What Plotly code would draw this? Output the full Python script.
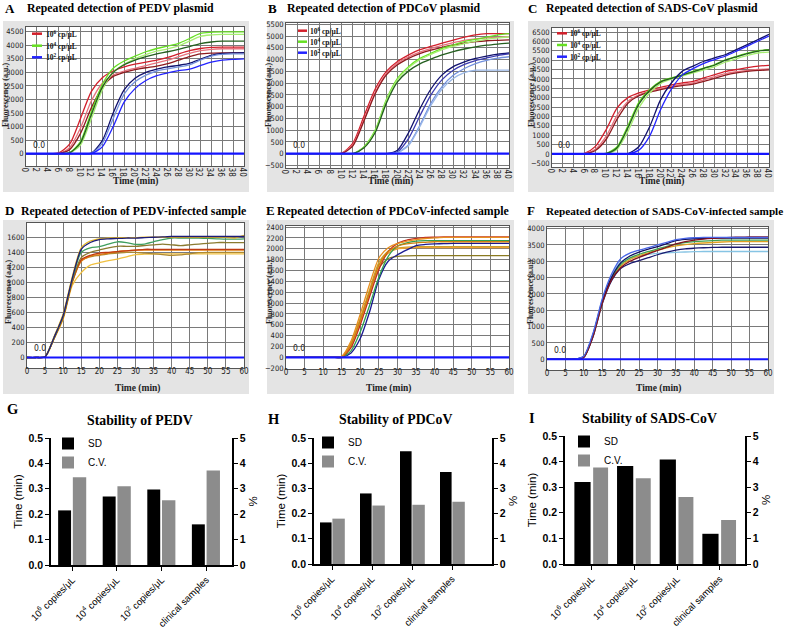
import plotly.graph_objects as go

W, H = 789, 629
def fx(p): return p / W
def fy(p): return 1 - p / H

# ---------------- DATA ----------------
T40 = [0, 2, 4, 6, 8, 10, 12, 14, 16, 18, 20, 22, 24, 26, 28, 30, 32, 34, 36, 38, 40]
T60 = [0, 2.5, 5, 7.5, 10, 12.5, 15, 17.5, 20, 22.5, 25, 27.5, 30, 32.5, 35, 37.5, 40,
       42.5, 45, 47.5, 50, 52.5, 55, 57.5, 60]

# Panel A: PEDV plasmid
A_red1 = [0,0,0,30,350,1300,2300,2800,3050,3200,3300,3380,3450,3550,3680,3800,3880,3920,3930,3930,3930]
A_red2 = [0,0,0,10,220,950,1950,2600,2900,3050,3150,3250,3350,3450,3580,3700,3800,3850,3870,3870,3870]
A_red3 = [0,0,0,5,150,750,1700,2450,2850,3000,3100,3170,3230,3320,3450,3580,3680,3710,3720,3720,3720]
A_green1 = [0,0,0,0,40,450,1550,2550,3150,3420,3600,3760,3880,3970,4070,4250,4440,4480,4490,4490,4490]
A_green2 = [0,0,0,0,20,320,1300,2350,3000,3300,3500,3650,3780,3870,3980,4150,4330,4380,4400,4400,4400]
A_green3 = [0,0,0,0,30,400,1450,2450,3000,3280,3450,3580,3680,3760,3850,3950,4060,4120,4150,4150,4150]
A_blue1 = [0,0,0,0,0,0,20,480,1500,2350,2780,3000,3120,3200,3260,3330,3480,3630,3700,3720,3730]
A_blue2 = [0,0,0,0,0,0,10,380,1300,2200,2650,2900,3050,3130,3200,3280,3450,3600,3660,3680,3680]
A_blue3 = [0,0,0,0,0,0,5,250,1000,1900,2400,2700,2880,2980,3060,3120,3250,3380,3450,3480,3500]

# Panel B: PDCoV plasmid
B_red1 = [0,0,0,0,0,20,450,1600,2750,3500,3920,4200,4420,4560,4700,4830,4950,5050,5100,5100,5100]
B_red2 = [0,0,0,0,0,10,380,1450,2600,3400,3850,4120,4320,4470,4600,4720,4820,4880,4920,4950,4970]
B_red3 = [0,0,0,0,0,5,330,1400,2550,3350,3780,4050,4250,4400,4520,4620,4700,4760,4800,4820,4840]
B_green1 = [0,0,0,0,0,0,0,300,1000,2300,3200,3700,4050,4270,4480,4620,4760,4860,4950,5050,5100]
B_green2 = [0,0,0,0,0,0,0,270,950,2250,3150,3650,4000,4220,4420,4560,4680,4780,4860,4920,4960]
B_green3 = [0,0,0,0,0,0,0,250,900,2150,3050,3520,3820,4020,4200,4340,4450,4540,4610,4660,4700]
B_blue1 = [0,0,0,0,0,0,0,0,0,0,150,900,1900,2750,3350,3700,3900,4050,4150,4230,4280]
B_blue2 = [0,0,0,0,0,0,0,0,0,0,80,650,1600,2500,3150,3550,3800,3960,4070,4170,4240]
B_blue3 = [0,0,0,0,0,0,0,0,0,0,40,380,1200,2150,2850,3330,3620,3830,3970,4060,4120]
B_blue4 = [0,0,0,0,0,0,0,0,0,0,30,350,1150,2050,2750,3200,3450,3550,3550,3550,3550]

# Panel C: SADS-CoV plasmid
C_red1 = [0,0,0,30,400,1300,2450,3000,3250,3420,3550,3680,3780,3870,4050,4230,4400,4500,4600,4680,4720]
C_red2 = [0,0,0,10,250,950,2050,2800,3150,3350,3480,3600,3700,3790,3950,4120,4280,4380,4450,4500,4530]
C_red3 = [0,0,0,5,180,780,1850,2700,3100,3300,3430,3550,3640,3720,3870,4030,4200,4320,4400,4450,4480]
C_green1 = [0,0,0,0,0,30,380,1500,2750,3420,3870,4050,4220,4400,4580,4760,5020,5200,5370,5500,5560]
C_green2 = [0,0,0,0,0,10,250,1200,2450,3250,3750,3980,4150,4320,4480,4650,4900,5080,5250,5380,5430]
C_green3 = [0,0,0,0,0,20,330,1400,2650,3380,3830,4030,4200,4380,4560,4740,5000,5180,5350,5480,5540]
C_blue1 = [0,0,0,0,0,0,0,20,380,1450,2880,3780,4400,4680,4940,5120,5300,5560,5830,6100,6380]
C_blue2 = [0,0,0,0,0,0,0,5,200,950,2350,3450,4200,4550,4830,5030,5220,5480,5750,6020,6280]

NTC40 = [0]*21
NTC60 = [0]*25

# Panel D: PEDV-infected sample
D_navy = [0,0,10,270,560,1050,1440,1530,1570,1580,1585,1590,1590,1595,1600,1605,1610,1610,1610,1610,1610,1610,1610,1610,1610]
D_gold = [0,0,10,280,580,1070,1460,1550,1580,1590,1595,1595,1595,1600,1600,1600,1600,1600,1600,1600,1600,1600,1600,1590,1625]
D_green = [0,0,10,270,560,1040,1400,1460,1475,1510,1540,1530,1505,1510,1540,1570,1590,1590,1590,1590,1585,1580,1575,1575,1580]
D_olive = [0,0,10,260,540,1020,1330,1400,1430,1460,1480,1480,1480,1490,1500,1510,1500,1490,1500,1510,1520,1530,1530,1530,1530]
D_red = [0,0,10,260,540,1010,1300,1360,1390,1400,1410,1420,1430,1440,1440,1440,1440,1440,1440,1440,1440,1440,1440,1440,1440]
D_orange = [0,0,10,255,530,1000,1280,1350,1370,1390,1410,1420,1430,1430,1430,1430,1430,1430,1430,1430,1430,1430,1430,1430,1430]
D_brown = [0,0,10,255,530,1000,1290,1340,1360,1380,1390,1400,1400,1390,1380,1370,1360,1365,1380,1395,1400,1400,1400,1400,1400]
D_yellow = [0,0,10,250,510,960,1130,1230,1260,1290,1310,1340,1370,1375,1380,1380,1380,1380,1380,1380,1380,1380,1380,1380,1380]

# Panel E: PDCoV-infected sample
E_orange1 = [0,0,0,0,0,0,20,300,800,1350,1830,2020,2100,2140,2170,2190,2200,2210,2210,2210,2210,2210,2210,2210,2210]
E_orange2 = [0,0,0,0,0,0,10,230,680,1200,1700,1950,2050,2090,2110,2120,2130,2130,2130,2130,2130,2130,2130,2130,2130]
E_red = [0,0,0,0,0,0,5,180,600,1120,1620,1950,2100,2160,2190,2210,2215,2220,2220,2220,2220,2220,2220,2220,2220]
E_green = [0,0,0,0,0,0,0,120,470,960,1480,1860,2050,2110,2140,2150,2150,2150,2150,2150,2150,2150,2150,2150,2150]
E_blue = [0,0,0,0,0,0,0,80,350,840,1440,1770,1890,1980,2060,2080,2090,2095,2100,2100,2100,2100,2100,2100,2100]
E_olive = [0,0,0,0,0,0,10,250,700,1200,1650,1820,1860,1870,1875,1875,1875,1875,1875,1875,1875,1875,1875,1875,1875]
E_gold = [0,0,0,0,0,0,10,260,720,1250,1750,1960,2010,2030,2040,2040,2040,2040,2040,2040,2040,2040,2040,2040,2040]
E_orange3 = [0,0,0,0,0,0,5,200,640,1150,1680,1920,2000,2015,2020,2020,2020,2020,2020,2020,2020,2020,2020,2020,2020]

# Panel F: SADS-CoV-infected sample
F_blue = [0,0,0,0,100,800,1850,2600,3080,3250,3340,3420,3500,3580,3660,3700,3720,3730,3730,3730,3730,3730,3730,3730,3730]
F_darkred = [0,0,0,0,60,700,1720,2430,2800,3000,3120,3230,3330,3430,3530,3600,3650,3680,3700,3715,3730,3740,3745,3750,3750]
F_navy = [0,0,0,0,80,750,1780,2500,2950,3160,3280,3370,3450,3540,3630,3670,3690,3700,3705,3710,3710,3710,3710,3710,3710]
F_green = [0,0,0,0,70,730,1760,2480,2900,3100,3210,3300,3380,3460,3520,3570,3600,3620,3635,3645,3650,3650,3650,3650,3650]
F_orange = [0,0,0,0,70,720,1750,2460,2850,3050,3170,3260,3340,3410,3470,3510,3540,3560,3575,3590,3600,3600,3600,3600,3600]
F_navylow = [0,0,0,0,60,690,1700,2400,2780,2930,3020,3110,3200,3280,3340,3380,3400,3415,3425,3430,3430,3430,3430,3430,3430]
F_lightblue = [0,0,0,0,90,780,1820,2550,2980,3100,3160,3210,3240,3260,3275,3285,3295,3300,3300,3300,3300,3300,3300,3300,3300]

# Panels G-I: stability bars
BAR_CATS = ["10<sup>6</sup> copies/μL", "10<sup>4</sup> copies/μL",
            "10<sup>2</sup> copies/μL", "clinical samples"]
G_SD = [0.215, 0.270, 0.297, 0.160]
G_CV = [3.45, 3.10, 2.55, 3.72]
H_SD = [0.165, 0.280, 0.447, 0.365]
H_CV = [1.80, 2.32, 2.35, 2.47]
I_SD = [0.320, 0.383, 0.408, 0.118]
I_CV = [3.77, 3.35, 2.62, 1.72]

LEG_LABELS = ["10<sup>6</sup> cp/μL", "10<sup>4</sup> cp/μL", "10<sup>2</sup> cp/μL"]

# ---------------- STYLE ----------------
SERIF = "Liberation Serif, Times New Roman, serif"
NARROW = "Liberation Sans Narrow, DejaVu Sans Condensed, Arial Narrow, sans-serif"
SANS = "Liberation Sans, Arial, sans-serif"
RED = ["#d21f2b", "#e8707c", "#8e1a1f"]
GRN = ["#66e022", "#a6ef70", "#245f1f"]
BLU = ["#2323ff", "#7391de", "#11116e"]

panels = [
    dict(k=1, x=(26, 244), y=(27, 166), xr=[0, 40], xd=2, yr=[-454, 4673], yd=500, T=T40, ntc=NTC40,
         xt=(135, 182), yt=(6, 95),
         curves=[(A_red1, RED[0]), (A_red2, RED[1]), (A_red3, RED[2]),
                 (A_green1, GRN[0]), (A_green2, GRN[1]), (A_green3, GRN[2]),
                 (A_blue1, BLU[2]), (A_blue2, BLU[1]), (A_blue3, BLU[0])]),
    dict(k=2, x=(286, 509), y=(23, 168), xr=[0, 40], xd=2, yr=[-608, 5555], yd=500, T=T40, ntc=NTC40,
         xt=(390, 182), yt=(269, 95),
         curves=[(B_red1, RED[0]), (B_red2, RED[1]), (B_red3, RED[2]),
                 (B_green1, GRN[0]), (B_green2, GRN[1]), (B_green3, GRN[2]),
                 (B_blue1, BLU[2]), (B_blue2, "#3a3ab0"), (B_blue3, BLU[1]), (B_blue4, "#9ab8e8")]),
    dict(k=3, x=(552, 769), y=(28, 167), xr=[0, 40], xd=2, yr=[-700, 6714], yd=500, T=T40, ntc=NTC40,
         xt=(661, 182), yt=(532, 95),
         curves=[(C_red1, RED[0]), (C_red2, RED[1]), (C_red3, RED[2]),
                 (C_green1, GRN[0]), (C_green2, GRN[1]), (C_green3, GRN[2]),
                 (C_blue1, BLU[2]), (C_blue2, BLU[0])]),
    dict(k=4, x=(27, 244), y=(223, 368), xr=[0, 60], xd=5, yr=[-140, 1790], yd=200, T=T60, ntc=NTC60,
         xt=(137, 388), yt=(8, 292),
         curves=[(D_yellow, "#f0c040"), (D_brown, "#b08a30"), (D_orange, "#e07a10"), (D_red, "#c03a10"),
                 (D_olive, "#8a7a30"), (D_green, "#3f9f5f"), (D_gold, "#e8b820"), (D_navy, "#1c1c78")]),
    dict(k=5, x=(286, 509), y=(226, 369), xr=[0, 60], xd=5, yr=[-215, 2420], yd=200, T=T60, ntc=NTC60,
         xt=(388, 388), yt=(269, 292),
         curves=[(E_olive, "#8a7a20"), (E_gold, "#c8a030"), (E_orange3, "#f0a030"), (E_blue, "#1a1a90"),
                 (E_green, "#30a050"), (E_red, "#c03020"), (E_orange2, "#d08010"), (E_orange1, "#e89020")]),
    dict(k=6, x=(547, 768), y=(227, 370), xr=[0, 60], xd=5, yr=[-330, 4050], yd=500, T=T60, ntc=NTC60,
         xt=(658, 388), yt=(530, 292),
         curves=[(F_lightblue, "#86c4e4"), (F_navylow, "#1a1a70"), (F_orange, "#e0a020"), (F_green, "#40a050"),
                 (F_navy, "#101060"), (F_darkred, "#801020"), (F_blue, "#4a66e6")]),
]

fig = go.Figure()
layout = dict(template="none", width=W, height=H, margin=dict(l=0, r=0, t=0, b=0, pad=0), autosize=False,
              paper_bgcolor="white", plot_bgcolor="white", showlegend=True)
shapes, annots = [], []

boxes = [(3, 249, 21, 192), (267, 514, 21, 192), (528, 774, 21, 192),
         (3, 249, 220, 394), (267, 514, 220, 394), (528, 774, 220, 394)]
for (x0, x1, y0, y1) in boxes:
    shapes.append(dict(type="rect", xref="paper", yref="paper", x0=fx(x0), x1=fx(x1),
                       y0=fy(y1), y1=fy(y0), fillcolor="#e4e4e4", line=dict(width=0), layer="below"))

for p in panels:
    k = p["k"]
    xn, yn = ("x%d" % k if k > 1 else "x"), ("y%d" % k if k > 1 else "y")
    xk, yk = ("xaxis%d" % k if k > 1 else "xaxis"), ("yaxis%d" % k if k > 1 else "yaxis")
    shapes.append(dict(type="rect", xref=xn + " domain", yref=yn + " domain", x0=0, x1=1, y0=0, y1=1,
                       fillcolor="white", line=dict(width=0), layer="below"))
    for vals, col in p["curves"]:
        fig.add_trace(go.Scatter(x=p["T"], y=vals, mode="lines", xaxis=xn, yaxis=yn,
                                 line=dict(color=col, width=1.3, shape="spline", smoothing=0.7),
                                 showlegend=False, hoverinfo="skip"))
    fig.add_trace(go.Scatter(x=p["T"], y=p["ntc"], mode="lines", xaxis=xn, yaxis=yn,
                             line=dict(color="#1414ff", width=2.2), showlegend=False, hoverinfo="skip"))
    layout[xk] = dict(domain=[fx(p["x"][0]), fx(p["x"][1])], range=p["xr"], dtick=p["xd"], tick0=0,
                      anchor=yn, automargin=False, showgrid=True, gridcolor="#7a7a7a", gridwidth=1,
                      zeroline=False, showline=True, linecolor="#555", linewidth=1, mirror=True, ticks="",
                      ticklabelstandoff=-5,
                      tickfont=dict(family=NARROW, size=8, color="#222"))
    layout[yk] = dict(domain=[fy(p["y"][1]), fy(p["y"][0])], range=p["yr"], dtick=p["yd"], tick0=0,
                      anchor=xn, automargin=False, showgrid=True, gridcolor="#7a7a7a", gridwidth=1,
                      zeroline=False, showline=True, linecolor="#555", linewidth=1, mirror=True, ticks="",
                      tickfont=dict(family=NARROW, size=7.5, color="#222"))
    annots.append(dict(xref="paper", yref="paper", x=fx(p["xt"][0]), y=fy(p["xt"][1]), xanchor="center",
                       yanchor="middle", text="Time (min)", showarrow=False,
                       font=dict(family=SERIF, size=9.5, color="#222", weight="bold")))
    annots.append(dict(xref="paper", yref="paper", x=fx(p["yt"][0]), y=fy(p["yt"][1]), xanchor="center",
                       yanchor="middle", text="Fluorescence (a.u.)", textangle=-90, showarrow=False,
                       font=dict(family=SERIF, size=8, color="#222", weight="bold")))
    annots.append(dict(xref=xn, yref=yn, x=(2.3 if k <= 3 else 3.5), y=0, yanchor="bottom", yshift=2,
                       xanchor="center", text="0.0", showarrow=False,
                       font=dict(family=NARROW, size=8.5, color="#222")))

# manual legends for A-C
legpos = [((32, 42), (33.7, 45.7, 57.3), 44), ((298, 307), (30.7, 41.7, 52.7), 308),
          ((557, 567), (33.3, 45, 56.7), 568)]
for (lx, ys, tx) in legpos:
    for col, yy, lab in zip([RED[0], GRN[0], BLU[0]], ys, LEG_LABELS):
        shapes.append(dict(type="line", xref="paper", yref="paper", x0=fx(lx[0]), x1=fx(lx[1]),
                           y0=fy(yy), y1=fy(yy), line=dict(color=col, width=2.5)))
        annots.append(dict(xref="paper", yref="paper", x=fx(tx), y=fy(yy), xanchor="left", yanchor="middle",
                           text=lab, showarrow=False, font=dict(family=SERIF, size=7.5, color="#111", weight="bold")))

# panel titles
titles = [("A", 3, 8, 13, "Repeated detection of PEDV plasmid", 120, 8, 11.8),
          ("B", 266, 8, 13, "Repeated detection of PDCoV plasmid", 384, 8, 11.8),
          ("C", 526, 8, 13, "Repeated detection of SADS-CoV plasmid", 652, 8, 11.8),
          ("D", 3, 211, 13, "Repeated detection of PEDV-infected sample", 133, 211, 11.8),
          ("E", 264, 211, 13, "Repeated detection of PDCoV-infected sample", 393, 211, 11.8),
          ("F", 525, 211, 13, "Repeated detection of SADS-CoV-infected sample", 664, 211, 11.2),
          ("G", 5, 409, 14.5, "Stability of PEDV", 140, 420, 13.8),
          ("H", 266, 419, 14.5, "Stability of PDCoV", 395, 419, 13.8),
          ("I", 527, 418, 14.5, "Stability of SADS-CoV", 649, 418, 13.8)]
for L, lx, ly, ls, t, tx, ty, ts in titles:
    annots.append(dict(xref="paper", yref="paper", x=fx(lx), y=fy(ly), xanchor="left", yanchor="middle",
                       text=L, showarrow=False, font=dict(family=SERIF, size=ls, color="black", weight="bold")))
    annots.append(dict(xref="paper", yref="paper", x=fx(tx), y=fy(ty), xanchor="center", yanchor="middle",
                       text=t, showarrow=False, font=dict(family=SERIF, size=ts, color="black", weight="bold")))

# bar panels
bars = [dict(k=7, k2=10, x=(51, 232), y=(438, 565), xr=[-0.48, 3.58], sd=G_SD, cv=G_CV,
             sdo=-0.32, sdw=0.29, cvo=0.01, cvw=0.30, leg=(48, 429)),
        dict(k=8, k2=11, x=(314, 492), y=(438, 564), xr=[-0.45, 4.0], sd=H_SD, cv=H_CV,
             sdo=-0.30, sdw=0.29, cvo=0.01, cvw=0.31, leg=(308, 428)),
        dict(k=9, k2=12, x=(565, 745), y=(436, 564), xr=[-0.63, 3.59], sd=I_SD, cv=I_CV,
             sdo=-0.41, sdw=0.38, cvo=0.03, cvw=0.35, leg=(564, 427))]
for i, b in enumerate(bars):
    k, k2 = b["k"], b["k2"]
    leg = "legend" if i == 0 else "legend%d" % (i + 1)
    fig.add_trace(go.Bar(x=BAR_CATS, y=b["sd"], xaxis="x%d" % k, yaxis="y%d" % k, name="SD",
                         marker=dict(color="black", line=dict(width=0)), width=b["sdw"], offset=b["sdo"],
                         legend=leg, hoverinfo="skip"))
    fig.add_trace(go.Bar(x=BAR_CATS, y=b["cv"], xaxis="x%d" % k, yaxis="y%d" % k2, name="C.V.",
                         marker=dict(color="#8c8c8c", line=dict(width=0)), width=b["cvw"], offset=b["cvo"],
                         legend=leg, hoverinfo="skip"))
    axfont = dict(family=SANS, size=10.5, color="black", weight="bold")
    layout["xaxis%d" % k] = dict(domain=[fx(b["x"][0]), fx(b["x"][1])], anchor="y%d" % k, type="category",
                                 automargin=False, range=b["xr"], showline=True, linecolor="black",
                                 linewidth=1.5, ticks="outside", ticklen=4, tickwidth=1.2, tickcolor="black",
                                 tickangle=-45, showgrid=False, zeroline=False,
                                 tickfont=dict(family=SANS, size=9.5, color="black"))
    layout["yaxis%d" % k] = dict(domain=[fy(b["y"][1]), fy(b["y"][0])], anchor="x%d" % k, range=[0, 0.5],
                                 automargin=False, dtick=0.1, tickformat=".1f", showline=True,
                                 linecolor="black", linewidth=1.5, ticks="outside", ticklen=4, tickwidth=1.2,
                                 tickcolor="black", showgrid=False, zeroline=False, tickfont=axfont,
                                 title=dict(text="Time (min)", standoff=4,
                                            font=dict(family=SANS, size=11.5, color="black")))
    layout["yaxis%d" % k2] = dict(overlaying="y%d" % k, anchor="x%d" % k, side="right", range=[0, 5], dtick=1,
                                  automargin=False, showline=True, linecolor="black", linewidth=1.5,
                                  ticks="outside", ticklen=4, tickwidth=1.2, tickcolor="black", showgrid=False,
                                  zeroline=False, tickfont=axfont,
                                  title=dict(text="%", standoff=4, font=dict(family=SANS, size=11.5, color="black")))
    layout[leg] = dict(x=fx(b["leg"][0]), y=fy(b["leg"][1]), xanchor="left", yanchor="top",
                       bgcolor="rgba(0,0,0,0)", font=dict(family=SANS, size=10, color="black"),
                       tracegroupgap=0, itemwidth=30)

layout["barmode"] = "overlay"
layout["shapes"] = shapes
layout["annotations"] = annots
fig.update_layout(**layout)
fig.write_html("out.html", config={"displayModeBar": False},
               post_script="document.body.style.margin='0px';")
